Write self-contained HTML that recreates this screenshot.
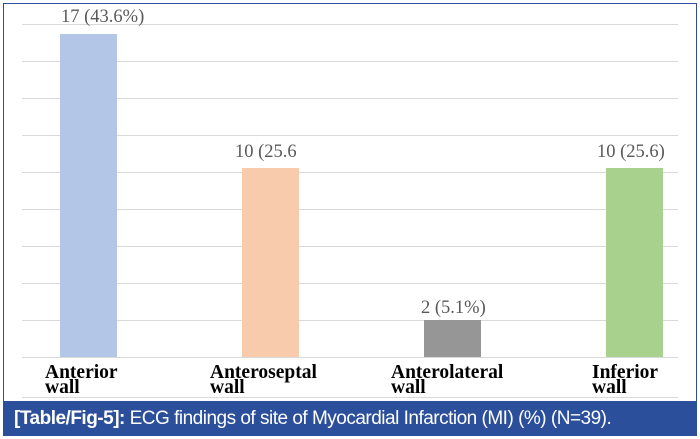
<!DOCTYPE html>
<html><head><style>
body{margin:0;width:700px;height:439px;background:#fff;overflow:hidden;position:relative}
.cap{position:absolute;left:3px;top:401px;width:694px;height:35px;background:#2b4f9b;color:#fff;font:19px "Liberation Sans",sans-serif;line-height:35px;box-sizing:border-box;padding-left:11px;letter-spacing:-0.5px;white-space:nowrap}
</style></head><body>
<svg width="700" height="439" style="position:absolute;left:0;top:0">
<rect x="3.5" y="3.5" width="693" height="400" fill="none" stroke="#2b4f9b" stroke-width="1"/>
<g stroke="#d9d9d9" stroke-width="1">
<line x1="22" x2="678" y1="24.5" y2="24.5"/><line x1="22" x2="678" y1="61.5" y2="61.5"/>
<line x1="22" x2="678" y1="98.5" y2="98.5"/><line x1="22" x2="678" y1="135.5" y2="135.5"/>
<line x1="22" x2="678" y1="172.5" y2="172.5"/><line x1="22" x2="678" y1="209.5" y2="209.5"/>
<line x1="22" x2="678" y1="246.5" y2="246.5"/><line x1="22" x2="678" y1="283.5" y2="283.5"/>
<line x1="22" x2="678" y1="320.5" y2="320.5"/><line x1="22" x2="678" y1="357.5" y2="357.5"/>
<line x1="22" x2="678" y1="397.5" y2="397.5"/>
</g>
<rect x="60" y="34" width="57" height="323" fill="#b4c6e7"/>
<rect x="242" y="168" width="57" height="189" fill="#f8cbad"/>
<rect x="424" y="320" width="57" height="37" fill="#969696"/>
<rect x="606" y="168" width="57" height="189" fill="#a9d18e"/>
<g font-family="Liberation Serif,serif" font-size="18.5" fill="#595959">
<text x="61" y="22">17 (43.6%)</text>
<text x="235" y="157">10 (25.6</text>
<text x="421" y="313">2 (5.1%)</text>
<text x="597" y="157">10 (25.6)</text>
</g>
<g font-family="Liberation Serif,serif" font-size="19.5" font-weight="bold" fill="#000">
<text x="45" y="378">Anterior</text><text x="45" y="393">wall</text>
<text x="210" y="378">Anteroseptal</text><text x="210" y="393">wall</text>
<text x="391" y="378">Anterolateral</text><text x="391" y="393">wall</text>
<text x="592" y="378">Inferior</text><text x="592" y="393">wall</text>
</g>
</svg>
<div class="cap"><b>[Table/Fig-5]:</b> ECG findings of site of Myocardial Infarction (MI) (%) (N=39).</div>
</body></html>
